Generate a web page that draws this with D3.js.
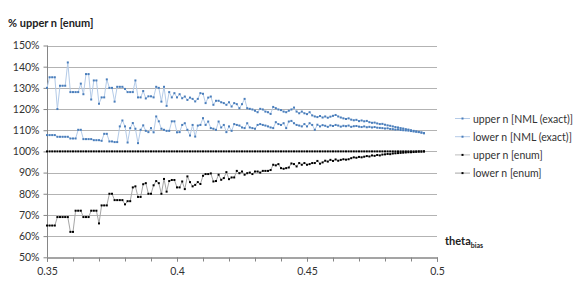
<!DOCTYPE html>
<html>
<head>
<meta charset="utf-8">
<script src="https://cdn.jsdelivr.net/npm/d3@7/dist/d3.min.js"></script>
<style>
    body { margin: 0; background: #fff; }
    svg { display: block; font-family: Lato, "Open Sans", sans-serif; }
</style>
</head>
<body>
<svg id="chart" width="581" height="291"></svg>
<script>
"use strict";

//  Data  ---
var theta = [
    0.350, 0.351, 0.352, 0.353, 0.354, 0.355, 0.356, 0.357, 0.358, 0.359,
    0.360, 0.361, 0.362, 0.363, 0.364, 0.365, 0.366, 0.367, 0.368, 0.369,
    0.370, 0.371, 0.372, 0.373, 0.374, 0.375, 0.376, 0.377, 0.378, 0.379,
    0.380, 0.381, 0.382, 0.383, 0.384, 0.385, 0.386, 0.387, 0.388, 0.389,
    0.390, 0.391, 0.392, 0.393, 0.394, 0.395, 0.396, 0.397, 0.398, 0.399,
    0.400, 0.401, 0.402, 0.403, 0.404, 0.405, 0.406, 0.407, 0.408, 0.409,
    0.410, 0.411, 0.412, 0.413, 0.414, 0.415, 0.416, 0.417, 0.418, 0.419,
    0.420, 0.421, 0.422, 0.423, 0.424, 0.425, 0.426, 0.427, 0.428, 0.429,
    0.430, 0.431, 0.432, 0.433, 0.434, 0.435, 0.436, 0.437, 0.438, 0.439,
    0.440, 0.441, 0.442, 0.443, 0.444, 0.445, 0.446, 0.447, 0.448, 0.449,
    0.450, 0.451, 0.452, 0.453, 0.454, 0.455, 0.456, 0.457, 0.458, 0.459,
    0.460, 0.461, 0.462, 0.463, 0.464, 0.465, 0.466, 0.467, 0.468, 0.469,
    0.470, 0.471, 0.472, 0.473, 0.474, 0.475, 0.476, 0.477, 0.478, 0.479,
    0.480, 0.481, 0.482, 0.483, 0.484, 0.485, 0.486, 0.487, 0.488, 0.489,
    0.490, 0.491, 0.492, 0.493, 0.494, 0.495
];

var upperNML = [
    130, 135, 135, 135, 120, 131, 131, 131, 142, 128, 128, 128, 128, 132, 127, 136.5, 136.5, 124.5, 133.5, 133.5,
    122.5, 125.5, 125.5, 134, 130, 130, 123.5, 130.5, 130.5, 130.5, 129.5, 128, 128, 128, 133.5, 125.5, 125.5, 128.5, 125, 126,
    126, 125.5, 130.5, 130, 123.5, 130.5, 121.5, 128, 125.5, 127.5, 125.5,
    127, 125.1, 125.9, 124.3, 125.4, 124.8, 123.6, 124.8, 127.5, 127.2, 122.8, 125.4, 125.9, 122, 123.9, 123.9, 123.2, 122.8, 122,
    123.2, 121.2, 122.8, 122.3, 120.4, 122.3, 124.8, 120.4, 120.1, 119.8, 119.2, 118.5, 120.1, 119.8, 118.8, 118.5, 117.7, 121, 120.4,
    119.8, 119.5, 118.8, 118.5, 119.2, 119.8, 120.7, 118.8, 118, 118.8, 118, 117.6, 118.5, 117, 116.5,
    116.2, 116.7, 116, 116.5, 115.9, 116.4, 116.8, 117.2, 116.5, 116, 115.6, 115.3, 115.6, 115, 114.7, 114.9, 114.3, 114.6, 114.2,
    114.4, 113.8, 113.5, 113.6, 113.2, 112.9, 113, 112.6, 112.3, 112.1, 111.8, 111.5, 111.3, 111, 110.8, 110.5, 110.3, 110, 109.7,
    109.4, 109.2, 108.9, 108.6
];

var lowerNML = [
    107.7, 107.7, 107.7, 107.7, 106.9, 106.9, 106.9, 106.9, 106.9, 106.1, 106.1, 106.1, 110.2, 110.2, 105.8, 105.8, 105.8, 105.8,
    105.3, 105.3, 105.3, 105, 108.3, 108.3, 104.7, 104.7, 104.4, 104.4, 111.8, 114.6, 111.8, 104.2, 111, 113.4, 110.7, 103.9,
    110.2, 112.3, 109.7, 109.1, 111, 109, 116.5, 114.2, 110.7, 110.2, 109.7, 109.7, 114.2, 114.2, 109,
    109.1, 112.5, 113.3, 110.2, 107.5, 112.5, 107, 112.2, 112.5, 115.7, 112.5, 114.1, 111, 110.7, 110.2, 114.1, 111.3, 112.5,
    109.1, 111.8, 109.7, 112.9, 112.5, 112.2, 111.3, 111, 113.3, 111.3, 111, 110.7, 112.5, 112.9, 112.5, 112.2, 111.8, 111.3,
    111, 113.8, 112.9, 112.5, 113.3, 111, 114.1, 114.4, 113.3, 112.5, 112.2, 111.8, 112.9, 111.8, 113.3, 112.5, 110.2,
    112.6, 111.8, 112.4, 112.1, 111.6, 112.3, 112, 112.5, 112.2, 111.7, 112.1, 111.9, 112.2, 111.6, 111.9, 112, 111.7, 111.5,
    111.8, 111.4, 111.6, 111.3, 111.5, 111.2, 111.1, 111, 110.8, 110.9, 110.6, 110.5, 110.3, 110.4, 110.1, 110, 109.9, 109.8,
    109.6, 109.4, 109.3, 109.1, 108.9, 108.6
];

var upperEnum = [
    100, 100, 100, 100, 100, 100, 100, 100, 100, 100, 100, 100, 100, 100, 100, 100, 100, 100, 100, 100,
    100, 100, 100, 100, 100, 100, 100, 100, 100, 100, 100, 100, 100, 100, 100, 100, 100, 100, 100, 100,
    100, 100, 100, 100, 100, 100, 100, 100, 100, 100, 100, 100, 100, 100, 100, 100, 100, 100, 100, 100,
    100, 100, 100, 100, 100, 100, 100, 100, 100, 100, 100, 100, 100, 100, 100, 100, 100, 100, 100, 100,
    100, 100, 100, 100, 100, 100, 100, 100, 100, 100, 100, 100, 100, 100, 100, 100, 100, 100, 100, 100,
    100, 100, 100, 100, 100, 100, 100, 100, 100, 100, 100, 100, 100, 100, 100, 100, 100, 100, 100, 100,
    100, 100, 100, 100, 100, 100, 100, 100, 100, 100, 100, 100, 100, 100, 100, 100, 100, 100, 100, 100,
    100, 100, 100, 100, 100, 100
];

var lowerEnum = [
    65, 65, 65, 65, 69, 69, 69, 69, 69, 62, 62, 72, 72, 72, 69, 69, 69, 72, 72, 72,
    66, 74.5, 74.5, 74.5, 80, 80, 77, 77, 77, 77, 75, 76.5, 76.5, 83, 83.5, 78.5, 78.5, 84.5, 85, 80,
    80, 84, 86, 85, 80, 87, 81, 86, 86.5, 86.5, 83, 83,
    85.8, 82.2, 88.2, 85.5, 83.5, 84.2, 85.5, 84.6, 88.5, 89.3, 89.3, 89.6, 85.8, 86, 89, 86.6, 87.4, 90.2,
    86.9, 87.7, 87.7, 90.8, 89.7, 90.5, 89, 89.7, 90, 89.3, 90.5, 90.5, 90, 90.8, 90.8, 90.8, 91.2, 93.7,
    93.4, 94, 92.1, 91.8, 92.1, 92.4, 94.3, 94, 92.9, 94.5, 93.7, 94.5, 93.7, 94, 94.5, 94.5,
    95.5, 94.2, 94.8, 95.6, 95.2, 96, 95.5, 96.2, 95.6, 96, 96.3, 96.1, 96.3, 96.8, 97.2, 97, 97.4, 97.2,
    97.5, 97.8, 97.6, 98.1, 97.9, 98.3, 98.1, 98.5, 98.6, 98.8, 98.7, 99, 99.1, 99.2, 99.3, 99.4, 99.5, 99.6,
    99.6, 99.7, 99.8, 99.9, 99.9, 100
];

var seriesNames = ["upper n [NML (exact)]", "lower n [NML (exact)]", "upper n [enum]", "lower n [enum]"];
var yTicks = [50, 60, 70, 80, 90, 100, 110, 120, 130, 140, 150];
var xLabelTicks = [0.35, 0.4, 0.45, 0.5];
var xMinorTicks = [0.35, 0.36, 0.37, 0.38, 0.39, 0.4, 0.41, 0.42, 0.43, 0.44, 0.45, 0.46, 0.47, 0.48, 0.49, 0.5];

//  Styles  ---
var seriesStyle = [
    { line: "#b4cbe8", marker: "#4a7ebb" },
    { line: "#b4cbe8", marker: "#4a7ebb" },
    { line: "#bdbdbd", marker: "#000000" },
    { line: "#a6a6a6", marker: "#000000" }
];
var seriesValues = [upperNML, lowerNML, upperEnum, lowerEnum];

var svg = d3.select("#chart");

var x = d3.scaleLinear().domain([0.35, 0.5]).range([47, 437]);
var y = d3.scaleLinear().domain([50, 150]).range([257.3, 45.5]);

//  Gridlines  ---
svg.append("g")
    .selectAll("line")
    .data(yTicks.filter(function (d) { return d > 50; }))
    .enter().append("line")
    .attr("x1", x(0.35))
    .attr("x2", x(0.5))
    .attr("y1", function (d) { return Math.round(y(d)) + 0.5; })
    .attr("y2", function (d) { return Math.round(y(d)) + 0.5; })
    .attr("stroke", "#b3b3b3")
    .attr("stroke-width", 1)
;

//  Axes  ---
var yAxis = svg.append("g")
    .attr("transform", "translate(" + (x(0.35) + 0.5) + ",0)")
    .call(d3.axisLeft(y).tickValues(yTicks).tickSize(4).tickPadding(4).tickFormat(function (d) { return d + "%"; }))
;
var xMinor = svg.append("g")
    .attr("transform", "translate(0," + (Math.round(y(50)) + 0.5) + ")")
    .call(d3.axisBottom(x).tickValues(xMinorTicks).tickSize(4).tickFormat(""))
;
var xAxis = svg.append("g")
    .attr("transform", "translate(0," + (Math.round(y(50)) + 0.5) + ")")
    .call(d3.axisBottom(x).tickValues(xLabelTicks).tickSize(4).tickPadding(6).tickFormat(function (d) { return String(d); }))
;
[yAxis, xMinor, xAxis].forEach(function (g) {
    g.select(".domain").attr("stroke", "#868686");
    g.selectAll(".tick line").attr("stroke", "#868686");
    g.selectAll(".tick text").attr("fill", "#333").style("font-size", "10.5px").style("font-family", "Lato, sans-serif");
});
yAxis.select(".domain").attr("d", "M0," + y(150) + "V" + y(50));

//  Series  ---
var line = d3.line()
    .x(function (d) { return x(d[0]); })
    .y(function (d) { return y(d[1]); })
;
var plot = svg.append("g");
seriesValues.forEach(function (vals, si) {
    var pts = vals.map(function (v, i) { return [theta[i], v]; });
    var g = plot.append("g");
    g.append("path")
        .attr("d", line(pts))
        .attr("fill", "none")
        .attr("stroke", seriesStyle[si].line)
        .attr("stroke-width", 1)
    ;
    g.selectAll("rect")
        .data(pts)
        .enter().append("rect")
        .attr("x", function (d) { return x(d[0]) - 1; })
        .attr("y", function (d) { return y(d[1]) - 1; })
        .attr("width", 2)
        .attr("height", 2)
        .attr("fill", seriesStyle[si].marker)
    ;
});

//  Titles  ---
svg.append("text")
    .attr("x", 8)
    .attr("y", 27)
    .style("font-size", "11px")
    .style("font-weight", "bold")
    .attr("fill", "#222")
    .text("% upper n [enum]")
;
var xt = svg.append("text")
    .attr("x", 445)
    .attr("y", 245)
    .style("font-size", "11px")
    .style("font-weight", "bold")
    .attr("fill", "#222")
;
xt.append("tspan").text("theta");
xt.append("tspan").attr("dy", 3).style("font-size", "7px").text("bias");

//  Legend  ---
var legend = svg.append("g")
    .selectAll("g")
    .data(seriesNames)
    .enter().append("g")
    .attr("transform", function (d, i) { return "translate(455," + (118 + i * 18.2) + ")"; })
;
legend.append("line")
    .attr("x1", 0).attr("x2", 15)
    .attr("y1", 0.5).attr("y2", 0.5)
    .attr("stroke", function (d, i) { return seriesStyle[i].line; })
;
legend.append("rect")
    .attr("x", 6.5).attr("y", -0.5)
    .attr("width", 2).attr("height", 2)
    .attr("fill", function (d, i) { return seriesStyle[i].marker; })
;
legend.append("text")
    .attr("x", 18)
    .attr("y", 4.5)
    .style("font-size", "10.5px")
    .attr("fill", "#333")
    .text(function (d) { return d; })
;
</script>
</body>
</html>
